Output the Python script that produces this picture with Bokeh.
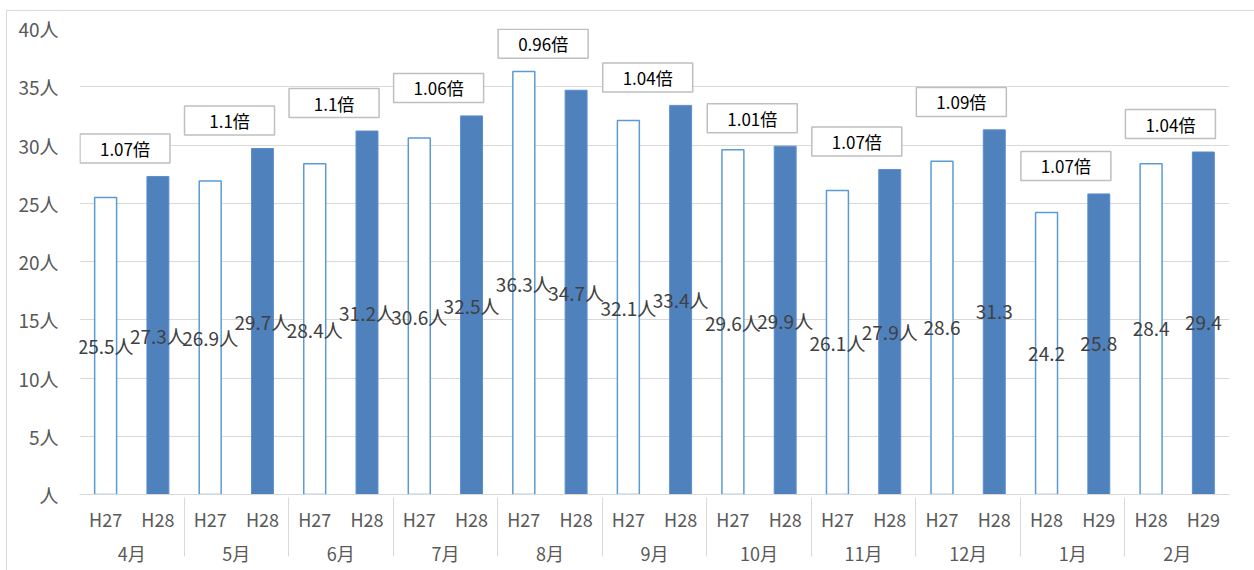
from bokeh.plotting import figure
from bokeh.models import FactorRange, ColumnDataSource, FixedTicker, Range1d
from bokeh.transform import dodge
from bokeh.core.properties import value
from bokeh.embed import file_html
from bokeh.resources import INLINE

# ---- data ----
months = ["4月", "5月", "6月", "7月", "8月", "9月", "10月", "11月", "12月", "1月", "2月"]
prev_year = ["H27", "H27", "H27", "H27", "H27", "H27", "H27", "H27", "H27", "H28", "H28"]
curr_year = ["H28", "H28", "H28", "H28", "H28", "H28", "H28", "H28", "H28", "H29", "H29"]
prev_vals = [25.5, 26.9, 28.4, 30.6, 36.3, 32.1, 29.6, 26.1, 28.6, 24.2, 28.4]
curr_vals = [27.3, 29.7, 31.2, 32.5, 34.7, 33.4, 29.9, 27.9, 31.3, 25.8, 29.4]
ratios = ["1.07", "1.1", "1.1", "1.06", "0.96", "1.04", "1.01", "1.07", "1.09", "1.07", "1.04"]
label_unit = ["人", "人", "人", "人", "人", "人", "人", "人", "", "", ""]
y_ticks = [0, 5, 10, 15, 20, 25, 30, 35, 40]
y_tick_labels = ["人", "5人", "10人", "15人", "20人", "25人", "30人", "35人", "40人"]

FONT = "Noto Sans CJK JP"
GRID = "#d9d9d9"
TXT = "#595959"

factors = []
for m, a, b in zip(months, prev_year, curr_year):
    factors.append((m, a))
    factors.append((m, b))

prev_src = ColumnDataSource(dict(
    x=[(m, a) for m, a in zip(months, prev_year)],
    top=prev_vals,
    mid=[v / 2 for v in prev_vals],
    label=[f"{v}{u}" for v, u in zip(prev_vals, label_unit)],
))
curr_src = ColumnDataSource(dict(
    x=[(m, b) for m, b in zip(months, curr_year)],
    top=curr_vals,
    mid=[v / 2 for v in curr_vals],
    label=[f"{v}{u}" for v, u in zip(curr_vals, label_unit)],
))
box_src = ColumnDataSource(dict(
    month=months,
    y=[max(a, b) + 2.4 for a, b in zip(prev_vals, curr_vals)],
    label=[f"{r}倍" for r in ratios],
))

x_range = FactorRange(*factors, group_padding=0, factor_padding=0, range_padding=0)

p = figure(x_range=x_range, y_range=Range1d(0, 40), width=1248, height=560,
           output_backend="svg", toolbar_location=None,
           min_border_left=72, min_border_right=26, min_border_top=17, min_border_bottom=77)
p.margin = (10, 0, 0, 6)
p.styles = {"border-top": "1px solid #d9d9d9", "border-left": "1px solid #d9d9d9"}
p.outline_line_color = None
p.background_fill_color = "white"

p.vbar(x="x", top="top", width=0.42, source=prev_src,
       fill_color="white", line_color="#5b9bd5", line_width=1.5)
p.vbar(x="x", top="top", width=0.42, source=curr_src,
       fill_color="#4f81bd", line_color="#5b8fd0", line_width=1)

p.text(x="x", y="mid", text="label", source=prev_src, text_align="center",
       text_baseline="middle", text_font=value(FONT), text_font_size="19px", text_color="#404040")
p.text(x="x", y="mid", text="label", source=curr_src, text_align="center",
       text_baseline="middle", text_font=value(FONT), text_font_size="19px", text_color="#404040")

bx = dodge("month", -0.13, range=x_range)
p.rect(x=bx, y="y", width=90, height=29, width_units="screen", height_units="screen",
       source=box_src, fill_color="white", line_color="#bfbfbf", line_width=1.5)
p.text(x=bx, y="y", text="label", source=box_src, text_align="center",
       text_baseline="middle", text_font=value(FONT), text_font_size="17px", text_color="black")

# axes
p.yaxis.ticker = FixedTicker(ticks=y_ticks)
p.yaxis.major_label_overrides = {t: l for t, l in zip(y_ticks, y_tick_labels)}
p.yaxis.axis_line_color = None
p.yaxis.major_tick_line_color = None
p.yaxis.minor_tick_line_color = None
p.yaxis.major_label_text_font = FONT
p.yaxis.major_label_text_font_size = "19px"
p.yaxis.major_label_text_color = TXT
p.yaxis.major_label_standoff = 15

p.ygrid.grid_line_color = GRID
p.ygrid.grid_line_width = 1
p.xgrid.grid_line_color = None

p.xaxis.axis_line_color = GRID
p.xaxis.major_tick_line_color = None
p.xaxis.minor_tick_line_color = None
p.xaxis.major_label_text_font = FONT
p.xaxis.major_label_text_font_size = "18px"
p.xaxis.major_label_text_color = TXT
p.xaxis.major_label_standoff = 5
p.xaxis.group_text_font = FONT
p.xaxis.group_text_font_size = "18px"
p.xaxis.group_text_font_style = "normal"
p.xaxis.group_text_color = TXT
p.xaxis.separator_line_color = GRID
p.xaxis.separator_line_width = 1

open("out.html", "w").write(file_html(p, INLINE))
